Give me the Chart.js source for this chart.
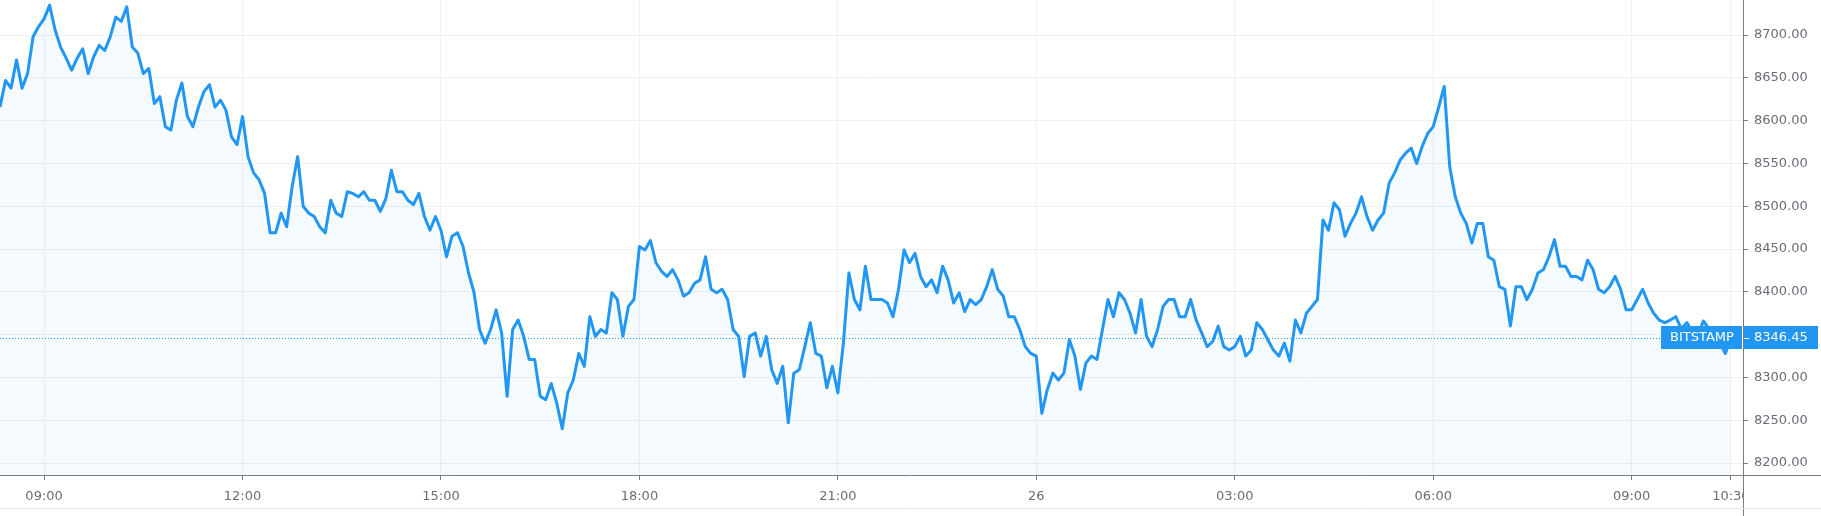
<!DOCTYPE html>
<html>
<head>
<meta charset="utf-8">
<title>BTC / Bitstamp</title>
<script src="https://cdn.jsdelivr.net/npm/chart.js@4.4.1/dist/chart.umd.min.js"></script>
<style>
    html, body { margin: 0; padding: 0; background: #fff; }
    #wrap { width: 1821px; height: 516px; }
</style>
</head>
<body>
<div id="wrap"><canvas id="priceChart" width="1821" height="516"></canvas></div>
<script>
// time axis in minutes from midnight of the 25th, one price every 5 minutes
const startMinute = 500; // 08:20
const stepMinutes = 5;

const prices = [
    // 08:20 - 12:50
    8616, 8647, 8638, 8671, 8638, 8655, 8698, 8710, 8719, 8735, 8706, 8686, 8673, 8659, 8673, 8684,
    8655, 8675, 8688, 8682, 8698, 8721, 8716, 8733, 8686, 8679, 8655, 8661, 8620, 8628, 8593, 8589,
    8624, 8644, 8605, 8593, 8616, 8634, 8642, 8616, 8624, 8612, 8581, 8572, 8605, 8558, 8539, 8531,
    8515, 8469, 8469, 8492, 8476, 8523, 8558,
    // 12:55 - 17:15
    8500, 8492, 8488, 8476, 8469, 8507, 8492, 8488, 8517, 8515, 8511, 8517, 8507, 8507, 8494, 8509,
    8542, 8517, 8517, 8507, 8502, 8515, 8488, 8472, 8488, 8472, 8441, 8465, 8469, 8453, 8422, 8399,
    8356, 8340, 8356, 8379, 8352, 8278, 8356, 8367, 8348, 8321, 8321, 8278, 8274, 8293, 8270, 8240,
    8282, 8297, 8328, 8313, 8371,
    // 17:20 - 21:35
    8348, 8356, 8352, 8399, 8391, 8348, 8383, 8391, 8453, 8449, 8460, 8434, 8424, 8418, 8426, 8414,
    8395, 8399, 8410, 8414, 8441, 8403, 8399, 8403, 8391, 8356, 8348, 8301, 8348, 8352, 8325, 8348,
    8309, 8293, 8313, 8247, 8305, 8309, 8336, 8364, 8328, 8325, 8288, 8313, 8282, 8340, 8422, 8391,
    8379, 8430, 8391, 8391,
    // 21:40 - 01:40
    8391, 8387, 8371, 8403, 8449, 8434, 8445, 8418, 8406, 8414, 8399, 8430, 8414, 8387, 8399, 8377,
    8391, 8385, 8391, 8406, 8426, 8403, 8395, 8371, 8371, 8356, 8336, 8328, 8325, 8258, 8286, 8305,
    8297, 8305, 8344, 8325, 8286, 8317, 8325, 8321, 8356, 8391, 8371, 8399, 8391, 8375, 8352, 8391,
    8348, 8336, 8356, 8383, 8391,
    // 01:45 - 06:00
    8391, 8371, 8371, 8391, 8367, 8352, 8336, 8342, 8360, 8336, 8332, 8336, 8348, 8325, 8332, 8364,
    8356, 8344, 8332, 8325, 8340, 8319, 8367, 8352, 8375, 8383, 8391, 8484, 8472, 8504, 8496, 8465,
    8480, 8492, 8511, 8488, 8472, 8484, 8492, 8527, 8539, 8554, 8562, 8568, 8550, 8570, 8585, 8593,
    8616, 8640, 8546, 8511,
    // 06:05 - 10:30
    8492, 8480, 8457, 8480, 8480, 8441, 8437, 8406, 8403, 8360, 8406, 8406, 8391, 8403, 8422, 8426,
    8441, 8461, 8430, 8430, 8418, 8418, 8414, 8437, 8426, 8403, 8399, 8406, 8418, 8403, 8379, 8379,
    8391, 8403, 8387, 8375, 8367, 8364, 8367, 8371, 8357, 8364, 8354, 8348, 8366, 8357, 8352, 8340,
    8328, 8346.45
];

const timeTicks = [540, 720, 900, 1080, 1260, 1440, 1620, 1800, 1980, 2070];
const timeLabels = ["09:00", "12:00", "15:00", "18:00", "21:00", "26", "03:00", "06:00", "09:00", "10:30"];
const priceTicks = [8200, 8250, 8300, 8350, 8400, 8450, 8500, 8550, 8600, 8650, 8700];
const lastPrice = 8346.45;
const exchangeName = "BITSTAMP";

const lineBlue = "#2196f3";
const axisGrey = "#787b86";
const textGrey = "#6a6d78";
const gridColor = "#eef1f6";

Chart.defaults.font.family = "'DejaVu Sans', sans-serif";
Chart.defaults.font.size = 13;

const points = prices.map((p, i) => ({ x: startMinute + i * stepMinutes, y: p }));

// dotted last-price line, drawn under the series
const priceLine = {
    id: "priceLine",
    beforeDatasetsDraw(chart) {
        const { ctx, chartArea: a, scales } = chart;
        const py = Math.round(scales.y.getPixelForValue(lastPrice)) + 0.5;
        ctx.save();
        ctx.strokeStyle = lineBlue;
        ctx.lineWidth = 1;
        ctx.setLineDash([1, 2]);
        ctx.beginPath();
        ctx.moveTo(a.left, py);
        ctx.lineTo(a.right, py);
        ctx.stroke();
        ctx.restore();
    }
};

// axis frame + exchange / price tags
const frameAndTags = {
    id: "frameAndTags",
    afterDraw(chart) {
        const { ctx, chartArea: a, scales, width, height } = chart;
        ctx.save();
        // hide the part of the last time label that runs under the price scale
        ctx.fillStyle = "#fff";
        ctx.fillRect(a.right + 1, a.bottom + 1, width - a.right, height - a.bottom - 9);

        ctx.strokeStyle = axisGrey;
        ctx.lineWidth = 1;
        ctx.beginPath();
        ctx.moveTo(a.right + 0.5, 0);
        ctx.lineTo(a.right + 0.5, height);
        ctx.moveTo(0, a.bottom + 0.5);
        ctx.lineTo(width, a.bottom + 0.5);
        ctx.stroke();

        ctx.strokeStyle = "#e0e3eb";
        ctx.beginPath();
        ctx.moveTo(0, height - 7.5);
        ctx.lineTo(width, height - 7.5);
        ctx.stroke();

        // tags
        const py = Math.round(scales.y.getPixelForValue(lastPrice));
        const h = 23;
        ctx.fillStyle = lineBlue;
        ctx.fillRect(a.right - 82, py - 12, 81, h);
        ctx.fillRect(a.right + 1, py - 12, width - a.right - 4, h);

        ctx.strokeStyle = "#fff";
        ctx.beginPath();
        ctx.moveTo(a.right + 1, py + 0.5);
        ctx.lineTo(a.right + 6, py + 0.5);
        ctx.stroke();

        ctx.fillStyle = "#fff";
        ctx.font = "13px 'DejaVu Sans', sans-serif";
        ctx.textBaseline = "middle";
        ctx.textAlign = "center";
        ctx.fillText(exchangeName, a.right - 41, py);
        ctx.textAlign = "left";
        ctx.fillText(lastPrice.toFixed(2), a.right + 11, py);
        ctx.restore();
    }
};

new Chart(document.getElementById("priceChart"), {
    type: "line",
    data: {
        datasets: [{
            label: exchangeName,
            data: points,
            borderColor: lineBlue,
            borderWidth: 3,
            borderJoinStyle: "round",
            backgroundColor: "rgba(33, 150, 243, 0.05)",
            fill: "start",
            pointRadius: 0,
            tension: 0,
        }]
    },
    options: {
        responsive: false,
        animation: false,
        devicePixelRatio: 1,
        layout: { padding: 0 },
        plugins: {
            legend: { display: false },
            tooltip: { enabled: false }
        },
        scales: {
            x: {
                type: "linear",
                min: 500,
                max: 2081,
                afterBuildTicks: s => { s.ticks = timeTicks.map(v => ({ value: v })); },
                afterFit: s => { s.height = 41; s.paddingLeft = 0; s.paddingRight = 0; },
                ticks: {
                    autoSkip: false,
                    maxRotation: 0,
                    padding: 9,
                    color: textGrey,
                    callback: v => timeLabels[timeTicks.indexOf(v)]
                },
                grid: { color: gridColor, tickColor: axisGrey, tickLength: 5 },
                border: { display: false }
            },
            y: {
                position: "right",
                min: 8186,
                max: 8741,
                afterBuildTicks: s => { s.ticks = priceTicks.map(v => ({ value: v })); },
                afterFit: s => { s.width = 78; s.paddingTop = 0; s.paddingBottom = 0; },
                ticks: {
                    padding: 6,
                    color: textGrey,
                    callback: v => v.toFixed(2)
                },
                grid: { color: gridColor, tickColor: axisGrey, tickLength: 5 },
                border: { display: false }
            }
        }
    },
    plugins: [priceLine, frameAndTags]
});
</script>
</body>
</html>
